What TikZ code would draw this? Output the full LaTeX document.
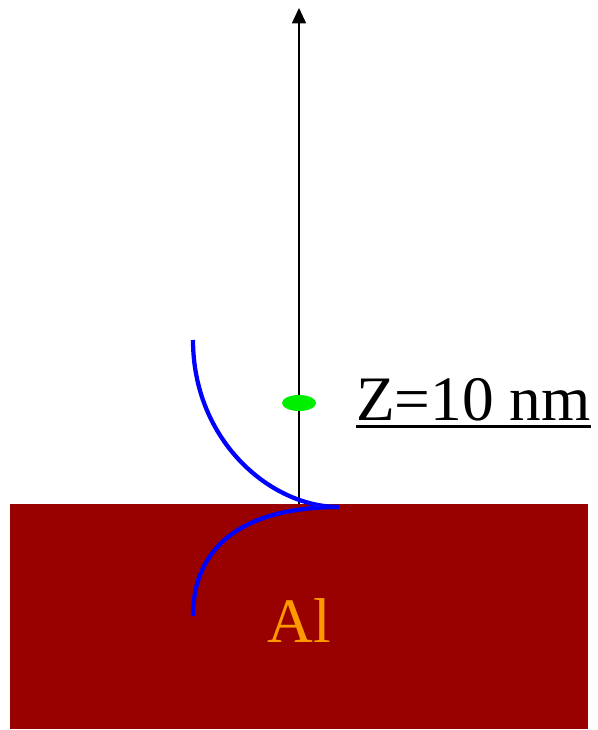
\documentclass[tikz,border=0pt]{standalone}
\usepackage{fontspec}
\setmainfont{Liberation Serif}
\usetikzlibrary{arrows.meta,shapes.geometric}
\definecolor{alred}{HTML}{990000}
\definecolor{alorange}{HTML}{FF9900}
\definecolor{dotgreen}{HTML}{00EE00}
\begin{document}
\begin{tikzpicture}[x=0.75pt,y=-0.75pt,
  bigtext/.style={font=\fontsize{47.5pt}{50pt}\selectfont, inner sep=0pt},
  curve/.style={draw=blue, line width=3.2pt}]
\useasboundingbox (0,0) rectangle (598,730);
\fill[alred] (10,504) rectangle (588,729);
\coordinate (base) at (299,504);
\coordinate (top) at (299,8);
\coordinate (tip) at (339,507);
\draw[line width=1.1pt, -{Triangle[length=11.5pt,width=10.5pt]}] (base) -- (top);
\node[ellipse, fill=dotgreen, minimum width=25.5pt, minimum height=12pt, inner sep=0pt] (dot) at (299,403) {};
\draw[curve] (193,340) .. controls (193,440) and (270,507) .. (tip);
\draw[curve] (tip) .. controls (245,507) and (193,545) .. (193,616);
\node[bigtext, anchor=base west] (lbl) at (356,420) {Z=10 nm};
\draw[line width=2.4pt] ([yshift=-5pt]lbl.base west) -- ([yshift=-5pt]lbl.base east);
\node[bigtext, text=alorange, anchor=base] (al) at (299,642) {Al};
\end{tikzpicture}
\end{document}
